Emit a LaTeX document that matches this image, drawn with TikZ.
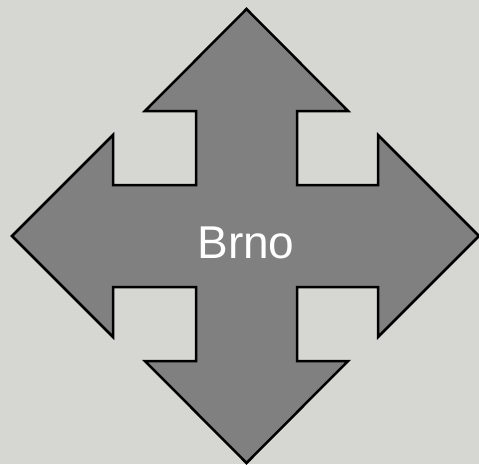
\documentclass[tikz,border=0pt]{standalone}
\usepackage{fontspec}
\setmainfont{Liberation Sans}
\definecolor{bgc}{HTML}{D6D6D3}
\definecolor{arrowfill}{HTML}{808080}
\tikzset{
  crossarrow/.style={fill=arrowfill, draw=black, line width=2.5pt, line join=miter},
  label/.style={text=white, font=\fontsize{46}{46}\selectfont, inner sep=0pt, anchor=base}
}
\begin{document}
\begin{tikzpicture}[x=1pt,y=-1pt]
\fill[bgc] (0,0) rectangle (479,464);
\useasboundingbox (0,0) rectangle (479,464);
\draw[crossarrow]
  (246.5,9) -- (348,111) -- (297,111) -- (297,185) -- (378,185) -- (378,135)
  -- (479,236) -- (378,337) -- (378,287) -- (297,287) -- (297,361)
  -- (348,361) -- (246.5,463) -- (145,361) -- (196,361) -- (196,287)
  -- (113,287) -- (113,337) -- (12,236) -- (113,135) -- (113,185)
  -- (196,185) -- (196,111) -- (145,111) -- cycle;
\node[label] (brno) at (246,258) {Brno};
\end{tikzpicture}
\end{document}
